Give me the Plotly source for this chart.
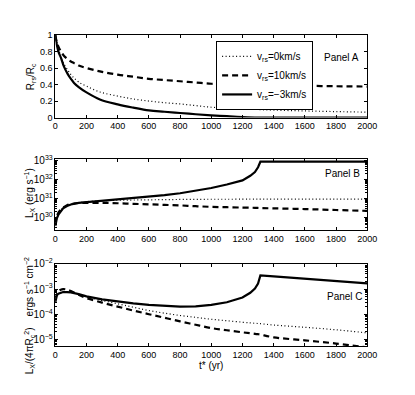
import plotly.graph_objects as go

# ---------------- Data ----------------
labels = ["v<sub>rs</sub>=0km/s", "v<sub>rs</sub>=10km/s", "v<sub>rs</sub>=\u22123km/s"]

# Panel A: R_rs / R_c
tA = [0, 10, 20, 37, 55, 79, 100, 120, 150, 200, 286, 400, 500, 600, 700, 800, 900,
      1000, 1100, 1200, 1300, 1400, 1600, 1800, 2000]
a_v0 = [1.0, 0.92, 0.84, 0.73, 0.65, 0.58, 0.52, 0.48, 0.43, 0.38, 0.31, 0.26, 0.225,
        0.2, 0.18, 0.165, 0.145, 0.125, 0.115, 0.105, 0.097, 0.09, 0.08, 0.072, 0.065]
a_v10 = [1.0, 0.91, 0.86, 0.80, 0.75, 0.71, 0.68, 0.66, 0.63, 0.60, 0.56, 0.52, 0.495,
         0.47, 0.455, 0.44, 0.425, 0.41, 0.405, 0.40, 0.395, 0.39, 0.385, 0.38, 0.376]
a_vm3 = [1.0, 0.88, 0.80, 0.72, 0.62, 0.53, 0.47, 0.42, 0.37, 0.305, 0.22, 0.16, 0.12,
         0.086, 0.07, 0.055, 0.04, 0.027, 0.016, 0.006, 0.0, 0.0, 0.0, 0.0, 0.0]

# Panel B: L_X (erg/s)
tB = [0, 5, 10, 20, 35, 50, 75, 100, 150, 200, 300, 400, 500, 600, 700, 800, 900,
      1000, 1100, 1200, 1250, 1280, 1300, 1315, 1400, 1600, 1800, 2000]
b_v0 = [4.0e29, 7.0e29, 1.0e30, 1.6e30, 2.4e30, 3.2e30, 4.2e30, 5.0e30, 6.0e30, 6.8e30,
        7.6e30, 8.1e30, 8.3e30, 8.5e30, 8.7e30, 8.9e30, 9.0e30, 9.1e30, 9.1e30, 9.2e30,
        9.2e30, 9.2e30, 9.2e30, 9.2e30, 9.3e30, 9.3e30, 9.3e30, 9.3e30]
b_v10 = [4.0e29, 8.0e29, 1.1e30, 1.8e30, 2.6e30, 3.3e30, 4.4e30, 5.0e30, 5.8e30, 5.9e30,
         5.9e30, 5.6e30, 5.2e30, 4.9e30, 4.6e30, 4.3e30, 3.9e30, 3.6e30, 3.45e30, 3.3e30,
         3.25e30, 3.2e30, 3.15e30, 3.1e30, 3.0e30, 2.75e30, 2.45e30, 2.2e30]
b_vm3 = [3.5e29, 6.3e29, 8.9e29, 1.4e30, 2.2e30, 3.0e30, 4.0e30, 4.8e30, 5.8e30, 6.3e30,
         7.4e30, 8.7e30, 1.05e31, 1.26e31, 1.5e31, 1.9e31, 2.5e31, 3.6e31, 5.5e31, 9.1e31,
         1.6e32, 2.5e32, 4.5e32, 8.9e32, 8.9e32, 8.9e32, 8.9e32, 8.9e32]

# Panel C: L_X / (4 pi R_c^2)
tC = tB
c_v0 = [3.2e-4, 4.6e-4, 5.6e-4, 6.6e-4, 7.1e-4, 7.4e-4, 7.6e-4, 7.3e-4, 6.1e-4, 4.9e-4,
        3.5e-4, 2.6e-4, 1.9e-4, 1.4e-4, 1.1e-4, 8.9e-5, 7.5e-5, 6.3e-5, 5.5e-5, 4.8e-5,
        4.5e-5, 4.35e-5, 4.25e-5, 4.2e-5, 3.7e-5, 3.0e-5, 2.4e-5, 1.8e-5]
c_v10 = [4.0e-4, 5.2e-4, 6.3e-4, 8.3e-4, 9.5e-4, 1.0e-3, 9.5e-4, 8.3e-4, 6.0e-4, 4.4e-4,
         2.9e-4, 2.0e-4, 1.4e-4, 1.0e-4, 7.2e-5, 5.2e-5, 3.8e-5, 2.8e-5, 2.3e-5, 1.9e-5,
         1.75e-5, 1.65e-5, 1.6e-5, 1.55e-5, 1.2e-5, 9.1e-6, 6.8e-6, 4.8e-6]
c_vm3 = [3.0e-4, 4.5e-4, 5.6e-4, 6.6e-4, 7.2e-4, 7.6e-4, 7.6e-4, 7.4e-4, 6.3e-4, 5.1e-4,
         3.9e-4, 3.2e-4, 2.7e-4, 2.35e-4, 2.1e-4, 2.0e-4, 2.05e-4, 2.35e-4, 3.0e-4, 4.6e-4,
         7.1e-4, 1.05e-3, 1.66e-3, 3.5e-3, 3.2e-3, 2.6e-3, 2.1e-3, 1.7e-3]

styles = [dict(dash="1px,2.5px", width=1.2), dict(dash="6px,4px", width=2.2),
          dict(dash="solid", width=2.2)]

fig = go.Figure()
panels = [(tA, [a_v0, a_v10, a_vm3], "x", "y"),
          (tB, [b_v0, b_v10, b_vm3], "x2", "y2"),
          (tC, [c_v0, c_v10, c_vm3], "x3", "y3")]
for p, (t, series, xa, ya) in enumerate(panels):
    for i, ys in enumerate(series):
        shape = "linear" if (i == 2 and p > 0) else "spline"
        fig.add_trace(go.Scatter(
            x=t, y=ys, mode="lines", name=labels[i], xaxis=xa, yaxis=ya,
            line=dict(color="black", shape=shape, **styles[i]),
            showlegend=(p == 0)))

ff = "Liberation Sans, Arial, sans-serif"
font = dict(family=ff, size=9, color="black")
xdom = [54 / 415, 376 / 415]
ydoms = [[1 - 114 / 395, 1 - 29 / 395], [1 - 230 / 395, 1 - 157 / 395], [1 - 350 / 395, 1 - 265 / 395]]

ax_common = dict(showline=True, linecolor="black", linewidth=1, mirror="ticks",
                 ticks="inside", ticklen=3, tickcolor="black", showgrid=False,
                 zeroline=False, tickfont=font)

layout = dict(width=415, height=395, margin=dict(l=0, r=0, t=0, b=0),
              paper_bgcolor="white", plot_bgcolor="white", font=font,
              legend=dict(x=220 / 415, y=1 - 35 / 395, xanchor="left", yanchor="top",
                          bgcolor="white", bordercolor="black", borderwidth=1,
                          font=dict(family=ff, size=10),
                          itemwidth=30, tracegroupgap=0))
for k in range(3):
    sfx = "" if k == 0 else str(k + 1)
    layout["xaxis" + sfx] = dict(ax_common, domain=xdom, range=[0, 2000], dtick=200,
                                 anchor="y" + sfx)
layout["yaxis"] = dict(ax_common, domain=ydoms[0], range=[0, 1], dtick=0.2, anchor="x")
logfont = dict(family=ff, size=8, color="black")
layout["yaxis2"] = dict(ax_common, domain=ydoms[1], type="log", range=[29.33, 33.08],
                        dtick=1, exponentformat="power", anchor="x2", tickfont=logfont,
                        minor=dict(ticks="inside", ticklen=2, tickcolor="black"))
layout["yaxis3"] = dict(ax_common, domain=ydoms[2], type="log", range=[-5.28, -2],
                        dtick=1, exponentformat="power", anchor="x3", tickfont=logfont,
                        minor=dict(ticks="inside", ticklen=2, tickcolor="black"))
fig.update_layout(**layout)

txt = dict(family=ff, size=10, color="black")
annos = [
    dict(text="Panel A", x=370 / 415, y=1 - 52 / 395, xanchor="right"),
    dict(text="Panel B", x=371 / 415, y=1 - 172 / 395, xanchor="right"),
    dict(text="Panel C", x=374 / 415, y=1 - 299 / 395, xanchor="right"),
    dict(text="t* (yr)", x=215 / 415, y=1 - 370 / 395, xanchor="center"),
    dict(text="R<sub>rs</sub>/R<sub>c</sub>", x=20 / 415, y=1 - 72 / 395, textangle=-90),
    dict(text="L<sub>X</sub> (erg s<sup>\u22121</sup>)", x=18 / 415, y=1 - 192 / 395, textangle=-90),
    dict(text="L<sub>X</sub>/(4\u03c0R<sub>c</sub><sup>2</sup>)    ergs s<sup>\u22121</sup> cm<sup>\u22122</sup>",
         x=18 / 415, y=1 - 318 / 395, textangle=-90),
]
for a in annos:
    fig.add_annotation(xref="paper", yref="paper", showarrow=False, font=txt,
                       yanchor="middle", **a)

fig.write_html("out.html", config={"displayModeBar": False},
               post_script="document.body.style.margin='0px';")
